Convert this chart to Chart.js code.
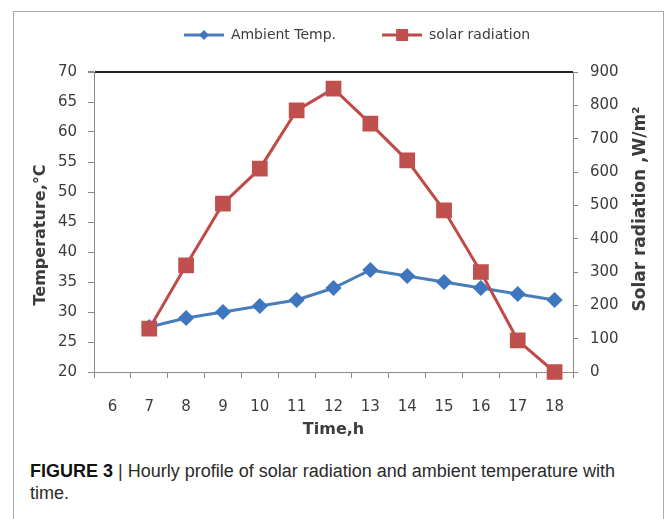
<!DOCTYPE html>
<html>
<head>
<meta charset="utf-8">
<script src="https://cdn.jsdelivr.net/npm/chart.js@4.4.1/dist/chart.umd.min.js"></script>
<style>
  html, body { margin: 0; padding: 0; background: #fff; }
  body { width: 669px; height: 519px; position: relative; overflow: hidden; }
  #frame {
    position: absolute; left: 13px; top: 11px; width: 651px; height: 530px;
    border: 1px solid #a9a9a9; border-bottom: none; box-sizing: border-box;
  }
  #chartBox { position: absolute; left: 14px; top: 12px; width: 646px; height: 440px; }
  #caption {
    position: absolute; left: 30px; top: 460px; width: 630px;
    font-family: "Liberation Sans", Arial, sans-serif; font-size: 18px;
    line-height: 22px; color: #2a2a2a;
  }
  #caption b { color: #111; }
</style>
</head>
<body>
<div id="frame"></div>
<div id="chartBox"><canvas id="profileChart"></canvas></div>
<div id="caption"><b>FIGURE 3</b> | Hourly profile of solar radiation and ambient temperature with<br>time.</div>

<script>
const hours = ["6", "7", "8", "9", "10", "11", "12", "13", "14", "15", "16", "17", "18"];
const ambientTemp = [null, 27.5, 29, 30, 31, 32, 34, 37, 36, 35, 34, 33, 32];
const solarRadiation = [null, 130, 320, 505, 610, 785, 850, 745, 635, 485, 300, 95, 0];

const tempTicks = { min: 20, max: 70, step: 5 };
const solarTicks = { min: 0, max: 900, step: 100 };

const BLUE_LINE = "#4a7ebb";
const BLUE_MARK = "#3f76c0";
const RED_LINE = "#be4b48";
const RED_MARK = "#c0504d";
const AXIS = "#8a8a8a";
const TEXT = "#3c3c3c";

// legend swatch: short line with the series marker on it
function swatch(lineColor, markColor, shape) {
  const c = document.createElement("canvas");
  c.width = 40;
  c.height = 16;
  const g = c.getContext("2d");
  g.strokeStyle = lineColor;
  g.lineWidth = 3;
  g.beginPath();
  g.moveTo(0, 8);
  g.lineTo(40, 8);
  g.stroke();
  g.fillStyle = markColor;
  g.beginPath();
  if (shape === "diamond") {
    g.moveTo(20, 3);
    g.lineTo(25, 8);
    g.lineTo(20, 13);
    g.lineTo(15, 8);
    g.closePath();
  } else {
    g.rect(14, 2, 12, 12);
  }
  g.fill();
  return c;
}

const legendSpace = {
  id: "legendSpace",
  beforeInit(chart) {
    const fit = chart.legend.fit;
    chart.legend.fit = function () {
      fit.call(this);
      this.height = 60;
    };
  },
  afterLayout(chart) {
    const lg = chart.legend;
    lg.top = -30;
    lg.left += 20;
    lg.right += 20;
  },
};

// both side titles read bottom-to-top, like the original
const sideTitles = {
  id: "sideTitles",
  afterDraw(chart) {
    const ctx = chart.ctx;
    const area = chart.chartArea;
    const mid = (area.top + area.bottom) / 2;
    ctx.save();
    ctx.fillStyle = TEXT;
    ctx.textAlign = "center";
    ctx.textBaseline = "middle";
    ctx.font = "bold 16px 'DejaVu Sans'";
    ctx.translate(chart.scales.y.left + 27, mid + 13);
    ctx.rotate(-Math.PI / 2);
    ctx.fillText("Temperature,°C", 0, 0);
    ctx.restore();

    ctx.save();
    ctx.fillStyle = TEXT;
    ctx.textAlign = "center";
    ctx.textBaseline = "middle";
    ctx.font = "bold 17px 'DejaVu Sans'";
    ctx.translate(chart.scales.y2.right - 19, mid - 13);
    ctx.rotate(-Math.PI / 2);
    ctx.fillText("Solar radiation ,W/m²", 0, 0);
    ctx.restore();
  },
};

const tickFont = { family: "DejaVu Sans", size: 15 };

new Chart(document.getElementById("profileChart"), {
  type: "line",
  data: {
    labels: hours,
    datasets: [
      {
        label: "Ambient Temp.",
        data: ambientTemp,
        yAxisID: "y",
        borderColor: BLUE_LINE,
        backgroundColor: BLUE_MARK,
        pointBackgroundColor: BLUE_MARK,
        pointBorderColor: BLUE_MARK,
        pointStyle: "rectRot",
        pointRadius: 6,
        borderWidth: 3,
        tension: 0,
        clip: false,
        order: 2,
      },
      {
        label: "solar radiation",
        data: solarRadiation,
        yAxisID: "y2",
        borderColor: RED_LINE,
        backgroundColor: RED_MARK,
        pointBackgroundColor: RED_MARK,
        pointBorderColor: RED_MARK,
        pointStyle: "rect",
        pointRadius: 9,
        borderWidth: 3,
        tension: 0,
        clip: false,
        order: 1,
      },
    ],
  },
  options: {
    responsive: true,
    maintainAspectRatio: false,
    animation: false,
    layout: { padding: { left: 0, right: 0, top: 0, bottom: 8 } },
    plugins: {
      tooltip: { enabled: false },
      legend: {
        position: "top",
        labels: {
          usePointStyle: true,
          pointStyleWidth: 40,
          padding: 46,
          color: TEXT,
          font: { family: "DejaVu Sans", size: 14 },
          generateLabels(chart) {
            return [
              { text: "Ambient Temp.", pointStyle: swatch(BLUE_LINE, BLUE_MARK, "diamond"),
                fillStyle: BLUE_MARK, strokeStyle: BLUE_LINE, lineWidth: 0, fontColor: TEXT,
                hidden: false, datasetIndex: 0 },
              { text: "solar radiation", pointStyle: swatch(RED_LINE, RED_MARK, "square"),
                fillStyle: RED_MARK, strokeStyle: RED_LINE, lineWidth: 0, fontColor: TEXT,
                hidden: false, datasetIndex: 1 },
            ];
          },
        },
      },
    },
    scales: {
      x: {
        type: "category",
        offset: true,
        afterFit(s) { s.height = 72; },
        border: { color: AXIS, width: 1 },
        grid: { offset: true, drawOnChartArea: false, color: AXIS, tickLength: 6 },
        ticks: { color: TEXT, font: tickFont, padding: 20, maxRotation: 0 },
        title: {
          display: true,
          text: "Time,h",
          color: TEXT,
          font: { family: "DejaVu Sans", size: 16, weight: "bold" },
          padding: { top: 0, bottom: 5 },
        },
      },
      y: {
        position: "left",
        min: tempTicks.min,
        max: tempTicks.max,
        afterFit(s) { s.width = 80; },
        border: { color: AXIS, width: 1 },
        grid: {
          color: (c) => (c.tick && c.tick.value === tempTicks.max ? "#222" : "rgba(0,0,0,0)"),
          lineWidth: (c) => (c.tick && c.tick.value === tempTicks.max ? 2 : 1),
          tickColor: AXIS,
          tickLength: 6,
        },
        ticks: { stepSize: tempTicks.step, color: TEXT, font: tickFont, padding: 11 },
      },
      y2: {
        position: "right",
        min: solarTicks.min,
        max: solarTicks.max,
        afterFit(s) { s.width = 87; },
        border: { color: AXIS, width: 1 },
        grid: { drawOnChartArea: false, color: AXIS, tickLength: 5 },
        ticks: { stepSize: solarTicks.step, color: TEXT, font: tickFont, padding: 12 },
      },
    },
  },
  plugins: [legendSpace, sideTitles],
});
</script>
</body>
</html>
